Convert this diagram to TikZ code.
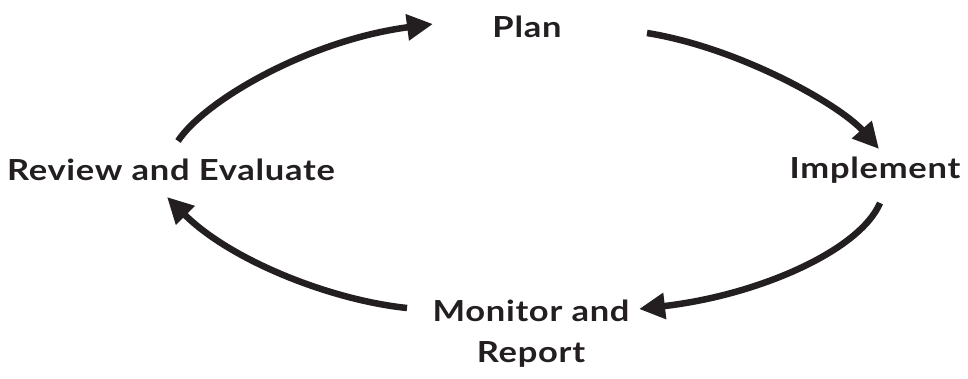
\documentclass[tikz,border=0pt]{standalone}
\usepackage{fontspec}
\setmainfont{Lato}[BoldFeatures={FakeStretch=1.19,LetterSpace=2.5}]
\usetikzlibrary{arrows.meta}
\definecolor{ink}{HTML}{231F20}
\begin{document}
\begin{tikzpicture}[x=1pt,y=-1pt,
  lbl/.style={font=\bfseries\fontsize{29}{41}\selectfont, text=ink, inner sep=0pt, align=center},
  cyc/.style={draw=ink, line width=6.5pt, -{Triangle[length=26pt,width=25pt]}}]
\useasboundingbox (0,0) rectangle (968,379);
\node[lbl] (plan) at (527,27) {Plan};
\node[lbl] (impl) at (875,170) {Implement};
\node[lbl] (rev) at (171,170) {Review and Evaluate};
\node[lbl] (mon) at (531,334) {Monitor and\\Report};
\coordinate (a1s) at (178,141); \coordinate (a1e) at (433,24);
\coordinate (a2s) at (647,33);  \coordinate (a2e) at (879,149);
\coordinate (a3s) at (880,203); \coordinate (a3e) at (639,309);
\coordinate (a4s) at (407,308); \coordinate (a4e) at (167,197);
\draw[cyc] (a1s) .. controls (205,100) and (310,40) .. (a1e);
\draw[cyc] (a2s) .. controls (740,48) and (840,105) .. (a2e);
\draw[cyc] (a3s) .. controls (860,250) and (760,295) .. (a3e);
\draw[cyc] (a4s) .. controls (330,300) and (230,260) .. (a4e);
\end{tikzpicture}
\end{document}
